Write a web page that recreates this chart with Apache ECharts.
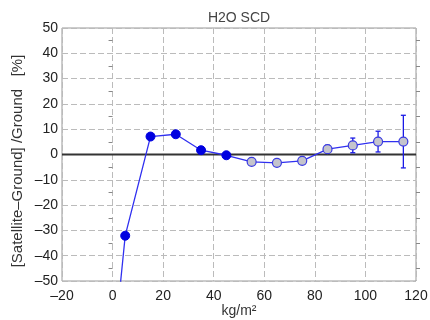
<!DOCTYPE html>
<html><head><meta charset="utf-8">
<script src="https://cdn.jsdelivr.net/npm/echarts@6/dist/echarts.min.js"></script>
<style>html,body{margin:0;padding:0;background:#fff}#c{width:430px;height:320px}</style>
</head><body><div id="c"></div>
<script>
const xValues = [-5, 5, 15, 25, 35, 45, 55, 65, 75, 85, 95, 105, 115];
const yValues = [-132, -32.1, 7.1, 8.0, 1.7, -0.3, -2.9, -3.3, -2.5, 2.1, 3.6, 5.1, 5.1];
const yErrors = [null, null, null, null, null, null, null, null, null, 1.5, 2.9, 4.1, 10.4];
const filled  = [true, true, true, true, true, true, false, false, false, false, false, false, false];
const xTicks = [-20, 0, 20, 40, 60, 80, 100, 120];
const yTicks = [-50, -40, -30, -20, -10, 0, 10, 20, 30, 40, 50];

const blue = '#1a1ae6';
const lineData = xValues.map((x, i) => ({
  value: [x, yValues[i]],
  itemStyle: filled[i] ? {color: '#0000e0', borderColor: '#0000e0', borderWidth: 1}
                       : {color: '#c4c4cc', borderColor: '#3a3ae0', borderWidth: 1.2}
}));
const errData = xValues.map((x, i) => yErrors[i] == null ? null : [x, yValues[i] - yErrors[i], yValues[i] + yErrors[i]]).filter(d => d);
const fmt = v => String(v).replace('-', '\u2013');

const chart = echarts.init(document.getElementById('c'), null, {renderer: 'canvas'});
const font = 'Liberation Sans, Arial, sans-serif';
chart.setOption({
  animation: false,
  title: {text: 'H2O SCD', left: 234, top: 6, textAlign: 'center',
    textStyle: {fontFamily: font, fontSize: 14, fontWeight: 'normal', color: '#444'}},
  grid: {left: 62, right: 14, top: 28, bottom: 39, show: true, borderColor: '#999', borderWidth: 1,
    backgroundColor: 'transparent', containLabel: false, outerBoundsMode: 'none'},
  graphic: [{type: 'text', rotation: Math.PI / 2,
    x: 18, y: 161,
    style: {text: '[Satellite\u2013Ground] /Ground   [%]', font: '15px Liberation Sans, Arial, sans-serif',
      fill: '#333', align: 'center', verticalAlign: 'middle'}}],
  xAxis: {type: 'value', min: xTicks[0], max: xTicks[xTicks.length - 1], interval: 20,
    name: 'kg/m²', nameLocation: 'middle', nameGap: 23, nameMoveOverlap: false,
    nameTextStyle: {fontFamily: font, fontSize: 14, color: '#333', verticalAlign: 'top'},
    axisLine: {show: false}, axisTick: {show: false},
    axisLabel: {fontFamily: font, fontSize: 14, color: '#222', margin: 8, formatter: fmt},
    splitLine: {show: true, lineStyle: {color: '#bbb', type: [6, 3], width: 1}}},
  yAxis: [{type: 'value', min: yTicks[0], max: yTicks[yTicks.length - 1], interval: 10,
    axisLine: {show: false}, axisTick: {show: false},
    minorTick: {show: true, splitNumber: 2, length: 4, lineStyle: {color: '#888'}},
    axisLabel: {fontFamily: font, fontSize: 14, color: '#222', margin: 4, formatter: fmt},
    splitLine: {show: true, lineStyle: {color: '#bbb', type: [6, 3], width: 1}}},
    {type: 'value', position: 'right', min: yTicks[0], max: yTicks[yTicks.length - 1], interval: 10,
    axisLine: {show: false}, axisTick: {show: false}, axisLabel: {show: false},
    minorTick: {show: true, splitNumber: 2, length: 4, lineStyle: {color: '#888'}},
    splitLine: {show: false}}],
  series: [
    {type: 'line', data: [[-20, 0], [120, 0]], symbol: 'none', silent: true,
     lineStyle: {color: '#333', width: 1.8}, z: 1},
    {type: 'custom', data: errData, z: 3, clip: true,
     renderItem: function (params, api) {
       const p1 = api.coord([api.value(0), api.value(1)]);
       const p2 = api.coord([api.value(0), api.value(2)]);
       const w = 2.5;
       const st = {stroke: blue, lineWidth: 1.3};
       return {type: 'group', children: [
         {type: 'line', shape: {x1: p1[0], y1: p1[1], x2: p2[0], y2: p2[1]}, style: st},
         {type: 'line', shape: {x1: p1[0]-w, y1: p1[1], x2: p1[0]+w, y2: p1[1]}, style: st},
         {type: 'line', shape: {x1: p2[0]-w, y1: p2[1], x2: p2[0]+w, y2: p2[1]}, style: st}
       ]};
     }},
    {type: 'line', data: lineData, symbol: 'circle', symbolSize: 9, z: 4, clip: true,
     lineStyle: {color: '#3030f0', width: 1.3}}
  ]
});
</script></body></html>
